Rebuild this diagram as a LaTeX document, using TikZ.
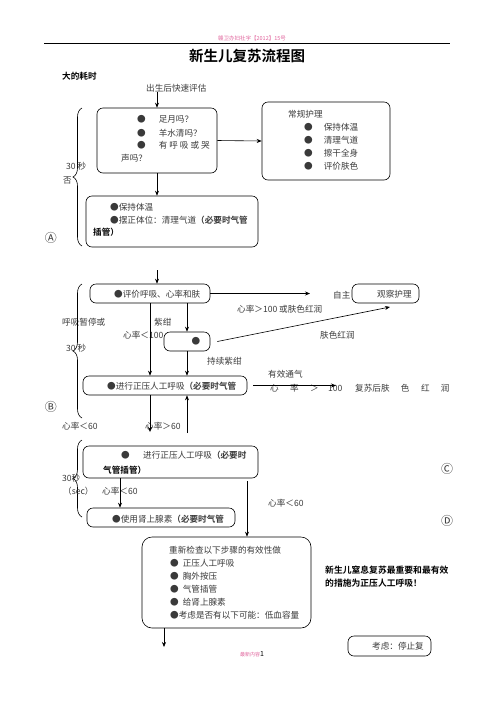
\documentclass[tikz,border=0pt]{standalone}
\usepackage{fontspec}
\setmainfont{Noto Sans CJK SC}[BoldFont={Noto Sans CJK SC Bold}]
\usepackage{xcolor}
\usetikzlibrary{arrows.meta,positioning,decorations.pathreplacing}
\definecolor{stamp}{HTML}{E0649C}
\definecolor{inkgray}{HTML}{3A3A3A}
\tikzset{
  box/.style={draw, rounded corners=6pt, line width=0.6pt, fill=white},
  txt/.style={inner sep=0pt, anchor=west, text=inkgray, font=\fontsize{8.6}{10}\selectfont},
  bold/.style={txt, text=black, font=\fontsize{8.6}{10}\selectfont\bfseries},
  circ/.style={inner sep=0pt, text=inkgray, font=\fontsize{12}{12}\selectfont},
  arr/.style={-{Stealth[length=5pt,width=4pt]}, line width=0.6pt},
  bracel/.style={decorate, decoration={brace, amplitude=9pt}, line width=0.6pt}
}

\begin{document}
\begin{tikzpicture}[x=1pt,y=-1pt]
  \useasboundingbox (0,0) rectangle (496,702);

  % header
  \node[inner sep=0pt, text=stamp, font=\fontsize{5.5}{6}\selectfont] (docno) at (252,38) {赣卫办妇社字【2012】15号};
  \draw[line width=0.8pt] (44,43) -- (450,43);
  \node[inner sep=0pt, font=\fontsize{14.5}{16}\selectfont\bfseries] (title) at (247,56) {新生儿复苏流程图};
  \node[bold] (timehead) at (62,76) {大的耗时};

  % step A
  \node[txt] (start) at (146,88) {出生后快速评估};
  \node[box, minimum width=120pt, minimum height=65pt] (a1) at (157,140.5) {};
  \node[txt] (q1) at (137,119) {●\hspace{13pt}足月吗？};
  \node[txt] (q2) at (137,133) {●\hspace{13pt}羊水清吗？};
  \node[txt] (q3) at (137,145) {●\hspace{13pt}有\hspace{2pt}呼\hspace{2pt}吸\hspace{2pt}或\hspace{2pt}哭};
  \node[txt] (q4) at (121,158) {声吗？};
  \node[box, minimum width=128pt, minimum height=78pt] (care) at (326,141) {};
  \node[txt] (carehead) at (288,114) {常规护理};
  \node[txt] (care1) at (304,127) {●\hspace{11pt}保持体温};
  \node[txt] (care2) at (304,140) {●\hspace{11pt}清理气道};
  \node[txt] (care3) at (304,153) {●\hspace{11pt}擦干全身};
  \node[txt] (care4) at (304,166) {●\hspace{11pt}评价肤色};
  \node[box, minimum width=172pt, minimum height=51pt] (a2) at (172,221.5) {};
  \node[txt] (warm) at (110,207) {●保持体温};
  \node[txt] (pos) at (110,220) {●摆正体位：清理气道\textbf{（必要时气管}};
  \node[bold] (pos2) at (93,232) {插管）};
  \draw[bracel] (82,246) -- (82,108);
  \node[txt] (ta) at (66,166) {30 秒};
  \node[txt] (na) at (63,180) {否};
  \node[circ] (la) at (51,238) {Ⓐ};

  \draw[arr] (start.south -| a1.north) -- (a1.north);
  \draw[arr] (a1.east) -- (care.west);
  \draw[arr] (a1.south) -- (a1.south |- a2.north);

  % step B
  \coordinate (bin) at (157,270);
  \coordinate (okend) at (310,296);
  \coordinate (skinend) at (390,307);
  \coordinate (effend) at (336,387);
  \node[box, minimum width=120pt, minimum height=19pt] (b1) at (150,293.5) {};
  \node[txt] (eval) at (114,294) {●评价呼吸、心率和肤};
  \node[txt] (self) at (333,295) {自主};
  \node[box, minimum width=67pt, minimum height=19pt] (obs) at (385.5,293.5) {};
  \node[txt] (obstxt) at (377,294) {观察护理};
  \node[txt] (hrhigh) at (237,309) {心率＞100 或肤色红润};
  \node[txt] (apnea) at (62,322) {呼吸暂停或};
  \node[txt] (cyan) at (154,322) {紫绀};
  \node[txt] (hr100) at (123,335) {心率＜100};
  \node[box, minimum width=46pt, minimum height=19pt] (b2) at (187,341.5) {};
  \node[txt, anchor=center] (dot) at (196,341) {●};
  \node[txt] (pinkskin) at (320,335) {肤色红润};
  \node[txt] (still) at (207,361) {持续紫绀};
  \node[box, minimum width=164pt, minimum height=19pt] (b3) at (165,385.5) {};
  \node[txt] (ppv) at (107,386) {●进行正压人工呼吸\textbf{（必要时气管}};
  \node[txt] (vent) at (268,374) {有效通气};
  \node[txt] (hrup) at (270,388) {心\hspace{11.4pt}率\hspace{11.4pt}＞\hspace{9.4pt}100};
  \node[txt] (rosy) at (355,388) {复苏后肤\hspace{11.4pt}色\hspace{11.4pt}红\hspace{11.4pt}润};
  \draw[bracel] (82,418) -- (82,284);
  \node[txt] (tb) at (66,348) {30 秒};
  \node[circ] (lb) at (51,407) {Ⓑ};
  \node[txt] (hrlow60) at (62,426) {心率＜60};
  \node[txt] (hrhi60) at (145,426) {心率＞60};
  \coordinate (gt60) at (150,432);
  \coordinate (lt60) at (187,433);

  \draw[arr] (bin) -- (bin |- b1.north);
  \draw[arr] (b1.east) -- (okend |- b1.east);
  \draw[arr] (b1.south) -- (b1.south |- b3.north);
  \draw[arr] (b2.north |- b1.south) -- (b2.north);
  \draw[arr] ([xshift=7pt]b2.east) -- (skinend);
  \draw[arr] (b2.south) -- (b2.south |- b3.north);
  \draw[arr] ([xshift=6pt]b3.east) -- (effend |- b3.east);
  \draw[arr] (b3.south -| gt60) -- (gt60);
  \draw[arr] (lt60) -- (lt60 |- b3.south);

  % step C and D
  \node[box, minimum width=175pt, minimum height=32pt] (c1) at (170.5,462) {};
  \node[txt] (ppv2) at (121,455) {●\hspace{13.4pt}进行正压人工呼吸\textbf{（必要时}};
  \node[bold] (tube2) at (103,470) {气管插管）};
  \draw[bracel] (82,517) -- (82,440);
  \node[txt] (tc) at (62,478) {30秒};
  \node[txt] (sec) at (63,491) {（sec）};
  \node[txt] (hr60c) at (102,491) {心率＜60};
  \node[box, minimum width=148pt, minimum height=19pt] (d1) at (161,517.5) {};
  \node[txt] (epi) at (112,519) {●使用肾上腺素\textbf{（必要时气管}};
  \node[txt] (hr60d) at (268,503) {心率＜60};
  \node[circ] (lc) at (447,469) {Ⓒ};
  \node[circ] (ld) at (447,521) {Ⓓ};

  % recheck
  \node[box, rounded corners=10pt, minimum width=169pt, minimum height=91pt] (rc) at (226.5,582.5) {};
  \node[txt] (recheck) at (169,550) {重新检查以下步骤的有效性做};
  \node[txt] (chk1) at (170,563) {●\hspace{4pt}正压人工呼吸};
  \node[txt] (chk2) at (170,576) {●\hspace{4pt}胸外按压};
  \node[txt] (chk3) at (170,589) {●\hspace{4pt}气管插管};
  \node[txt] (chk4) at (170,602) {●\hspace{4pt}给肾上腺素};
  \node[txt] (chk5) at (170,615) {●考虑是否有以下可能：低血容量};
  \coordinate (rcend) at (164,647);

  \draw[arr] ([xshift=-50.5pt]c1.south) -- ([xshift=-50.5pt]c1.south |- d1.north);
  \draw[arr] ([xshift=76.5pt,yshift=-3pt]c1.south) -- ([xshift=76.5pt]c1.south |- rc.north);
  \draw[arr] (rc.south -| rcend) -- (rcend);

  \node[bold, font=\fontsize{8.8}{10}\selectfont\bfseries] (key1) at (325,570) {新生儿窒息复苏最重要和最有效};
  \node[bold, font=\fontsize{8.8}{10}\selectfont\bfseries] (key2) at (325,583) {的措施为正压人工呼吸！};
  \node[box, minimum width=83pt, minimum height=20pt] (stop) at (389.5,646) {};
  \node[txt] (stoptxt) at (372,646) {考虑：停止复};
  \node[inner sep=0pt, anchor=west, font=\fontsize{5}{6}\selectfont] (foot) at (240,654) {\textcolor{stamp}{最新内容}{\fontsize{7}{8}\selectfont 1}};
\end{tikzpicture}
\end{document}
